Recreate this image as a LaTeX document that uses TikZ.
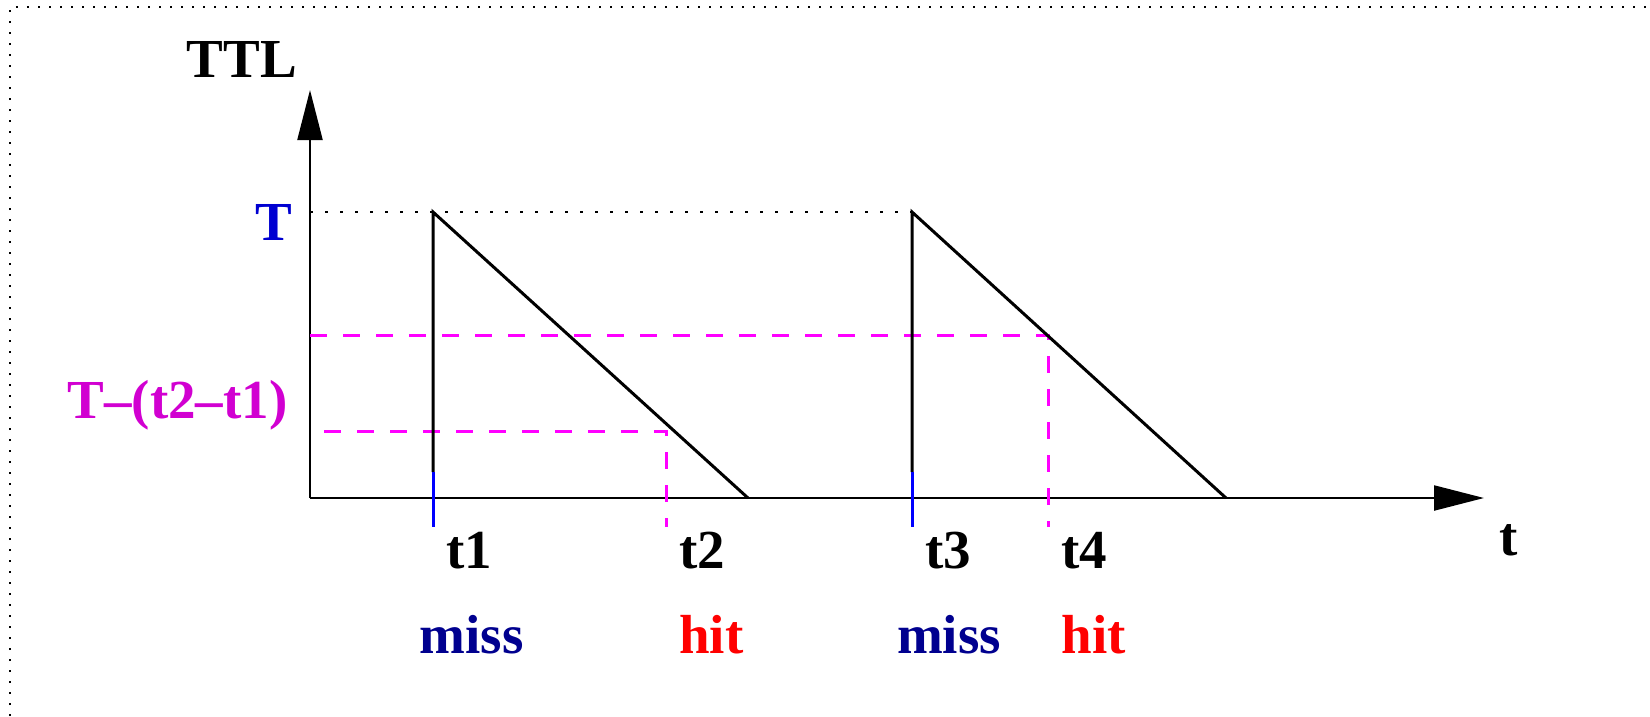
\documentclass[tikz,border=0pt]{standalone}
\usepackage{fontspec}
\setmainfont{Liberation Serif}
\usetikzlibrary{arrows.meta}
\definecolor{xblue}{RGB}{0,0,255}
\definecolor{xblueT}{RGB}{0,0,209}
\definecolor{xmiss}{RGB}{0,0,143}
\definecolor{xmag}{RGB}{255,0,255}
\definecolor{xmagT}{RGB}{209,0,209}
\definecolor{xred}{RGB}{255,0,0}
\begin{document}
\begin{tikzpicture}[x=1pt,y=-1pt,
  lbl/.style={font=\bfseries\fontsize{55}{60}\selectfont, inner sep=0pt, anchor=base},
  axisline/.style={line width=2.2pt, -{Triangle[length=50pt,width=25pt]}},
  saw/.style={line width=3pt},
  tickline/.style={line width=3pt, xblue},
  guide/.style={line width=3pt, xmag, dash pattern=on 17pt off 16pt},
  levelline/.style={line width=2.6pt, dash pattern=on 2.6pt off 12.4pt},
  framed/.style={line width=2pt, dash pattern=on 2pt off 9pt}
]
\useasboundingbox (0,0) rectangle (1650,716);
% frame
\coordinate (fb) at (10,716);
\coordinate (ftl) at (10,7);
\coordinate (ftr) at (1650,7);
\draw[framed] (fb) -- (ftl) -- (ftr);

% key coordinates
\coordinate (O) at (310,498);
\coordinate (Ytip) at (310,90);
\coordinate (Xtip) at (1484,498);
\coordinate (Tlev) at (310,212);
\coordinate (P1) at (433,212);
\coordinate (B1) at (748,498);
\coordinate (P2) at (912,212);
\coordinate (B2) at (1226,498);
\coordinate (k1) at (433,472);
\coordinate (k1b) at (433,527);
\coordinate (k3) at (912,472);
\coordinate (k3b) at (912,527);
\coordinate (g1s) at (310,335);
\coordinate (g1c) at (1048,335);
\coordinate (g1b) at (1048,527);
\coordinate (g2s) at (324,431);
\coordinate (g2c) at (666,431);
\coordinate (g2b) at (666,527);

% axes
\draw[axisline] (O) -- (Ytip);
\draw[axisline] (O) -- (Xtip);

% T level dotted
\draw[levelline] (Tlev) -- (P2);

% guides
\draw[guide] (g1s) -- (g1c) -- (g1b);
\draw[guide] (g2s) -- (g2c) -- (g2b);

% sawtooth
\draw[saw] (k1) -- (P1) -- (B1);
\draw[saw] (k3) -- (P2) -- (B2);
\draw[tickline] (k1) -- (k1b);
\draw[tickline] (k3) -- (k3b);

% labels
\node[lbl] (ttl) at (242,77) {TTL};
\node[lbl, text=xblueT] (tT) at (274,240) {T};
\node[lbl, text=xmagT] (tdiff) at (177.5,418) {T–(t2–t1)};
\node[lbl] (lt1) at (469,568) {t1};
\node[lbl] (lt2) at (702.5,568) {t2};
\node[lbl] (lt3) at (948,568) {t3};
\node[lbl] (lt4) at (1084.5,568) {t4};
\node[lbl, text=xmiss] (m1) at (471.5,653) {miss};
\node[lbl, text=xmiss] (m2) at (949,653) {miss};
\node[lbl, text=xred] (h1) at (711.5,653) {hit};
\node[lbl, text=xred] (h2) at (1094,653) {hit};
\node[lbl] (lt) at (1508.5,555) {t};
\end{tikzpicture}
\end{document}
